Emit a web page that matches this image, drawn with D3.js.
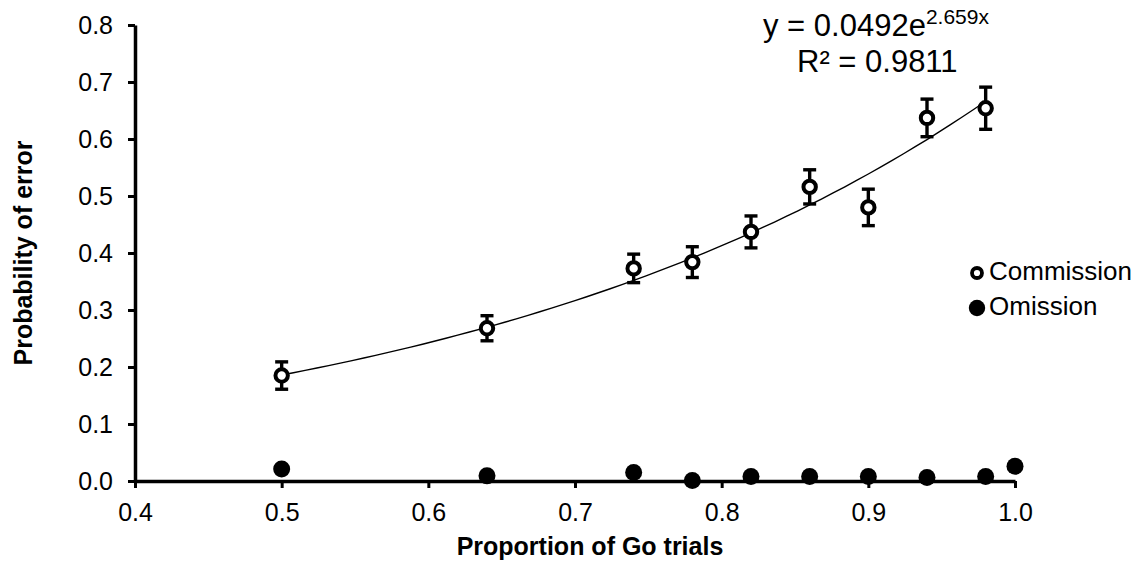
<!DOCTYPE html>
<html>
<head>
<meta charset="utf-8">
<script src="https://cdn.jsdelivr.net/npm/d3@7"></script>
<style>
  html, body { margin: 0; padding: 0; background: #fff; }
  svg { display: block; font-family: "Liberation Sans", Arial, sans-serif; }
</style>
</head>
<body>
<svg id="chart" width="1139" height="572"></svg>
<script>
// Proportion of Go trials in each block
const goProportion = [0.5, 0.64, 0.74, 0.78, 0.82, 0.86, 0.90, 0.94, 0.98];
// Commission errors: mean and error-bar half width
const commissionMean = [0.185, 0.268, 0.373, 0.384, 0.437, 0.516, 0.480, 0.637, 0.654];
const commissionErr  = [0.024, 0.022, 0.025, 0.027, 0.028, 0.030, 0.032, 0.033, 0.037];
// Omission errors (includes the 100% Go block)
const omissionX    = [0.5, 0.64, 0.74, 0.78, 0.82, 0.86, 0.90, 0.94, 0.98, 1.0];
const omissionMean = [0.021, 0.009, 0.015, 0.001, 0.008, 0.008, 0.008, 0.006, 0.008, 0.026];

// Axis ticks
const xTickValues = [0.4, 0.5, 0.6, 0.7, 0.8, 0.9, 1.0];
const yTickValues = [0.0, 0.1, 0.2, 0.3, 0.4, 0.5, 0.6, 0.7, 0.8];

// Exponential fit to the commission errors: y = a * e^(b x)
const fitA = 0.0492;
const fitB = 2.659;
const fitR2 = 0.9811;

const svg = d3.select("#chart");

const x = d3.scaleLinear().domain([0.4, 1.0]).range([135, 1015]);
const y = d3.scaleLinear().domain([0, 0.8]).range([481, 25]);

// Axes
const xAxis = svg.append("g")
  .attr("transform", `translate(0,${y(0)})`)
  .call(d3.axisBottom(x).tickValues(xTickValues).tickFormat(d3.format(".1f"))
    .tickSizeInner(7).tickSizeOuter(0).tickPadding(15));
const yAxis = svg.append("g")
  .attr("transform", `translate(${x(0.4)},0)`)
  .call(d3.axisLeft(y).tickValues(yTickValues).tickFormat(d3.format(".1f"))
    .tickSizeInner(7).tickSizeOuter(0).tickPadding(15));

[xAxis, yAxis].forEach(g => {
  g.select(".domain").attr("stroke", "#000").attr("stroke-width", 3.5);
  g.selectAll(".tick line").attr("stroke", "#000").attr("stroke-width", 3);
  g.selectAll(".tick text")
    .attr("fill", "#000")
    .style("font-family", "'Liberation Sans', Arial, sans-serif")
    .style("font-size", "25px");
});

// Axis titles
svg.append("text")
  .attr("x", 590).attr("y", 555)
  .attr("text-anchor", "middle")
  .style("font-weight", "bold").style("font-size", "25px")
  .text("Proportion of Go trials");

svg.append("text")
  .attr("transform", "translate(32,253) rotate(-90)")
  .attr("text-anchor", "middle")
  .style("font-weight", "bold").style("font-size", "25px")
  .text("Probability of error");

// Fitted curve across the commission range
const fitXs = d3.range(0, 61).map(i => 0.5 + (0.98 - 0.5) * i / 60);
svg.append("path")
  .datum(fitXs)
  .attr("fill", "none")
  .attr("stroke", "#000")
  .attr("stroke-width", 1.4)
  .attr("d", d3.line().x(d => x(d)).y(d => y(fitA * Math.exp(fitB * d))));

// Commission error bars
const commission = goProportion.map((g, i) => ({ g, m: commissionMean[i], e: commissionErr[i] }));
const bars = svg.append("g").selectAll("g").data(commission).join("g");
bars.append("line")
  .attr("x1", d => x(d.g)).attr("x2", d => x(d.g))
  .attr("y1", d => y(d.m + d.e)).attr("y2", d => y(d.m - d.e))
  .attr("stroke", "#000").attr("stroke-width", 3.4);
[1, -1].forEach(s => {
  bars.append("line")
    .attr("x1", d => x(d.g) - 6.5).attr("x2", d => x(d.g) + 6.5)
    .attr("y1", d => y(d.m + s * d.e)).attr("y2", d => y(d.m + s * d.e))
    .attr("stroke", "#000").attr("stroke-width", 3.4);
});

// Commission markers (open circles)
svg.append("g").selectAll("circle").data(commission).join("circle")
  .attr("cx", d => x(d.g)).attr("cy", d => y(d.m))
  .attr("r", 6.2)
  .attr("fill", "#fff").attr("stroke", "#000").attr("stroke-width", 4);

// Omission markers (filled circles)
svg.append("g").selectAll("circle")
  .data(omissionX.map((g, i) => ({ g, m: omissionMean[i] })))
  .join("circle")
  .attr("cx", d => x(d.g)).attr("cy", d => y(d.m))
  .attr("r", 8.5)
  .attr("fill", "#000");

// Fit equation
const eq = svg.append("text").attr("x", 763).attr("y", 36).style("font-size", "31px");
eq.append("tspan").text(`y = ${fitA}e`);
eq.append("tspan").attr("dy", -12).style("font-size", "21px").text(`${fitB}x`);
svg.append("text").attr("x", 797).attr("y", 72).style("font-size", "31px")
  .text(`R² = ${fitR2}`);

// Legend
const legend = svg.append("g");
legend.append("circle").attr("cx", 977).attr("cy", 273).attr("r", 5)
  .attr("fill", "#fff").attr("stroke", "#000").attr("stroke-width", 3.8);
legend.append("text").attr("x", 989).attr("y", 280).style("font-size", "26px").text("Commission");
legend.append("circle").attr("cx", 977).attr("cy", 308).attr("r", 8.2).attr("fill", "#000");
legend.append("text").attr("x", 989).attr("y", 315).style("font-size", "26px").text("Omission");
</script>
</body>
</html>
